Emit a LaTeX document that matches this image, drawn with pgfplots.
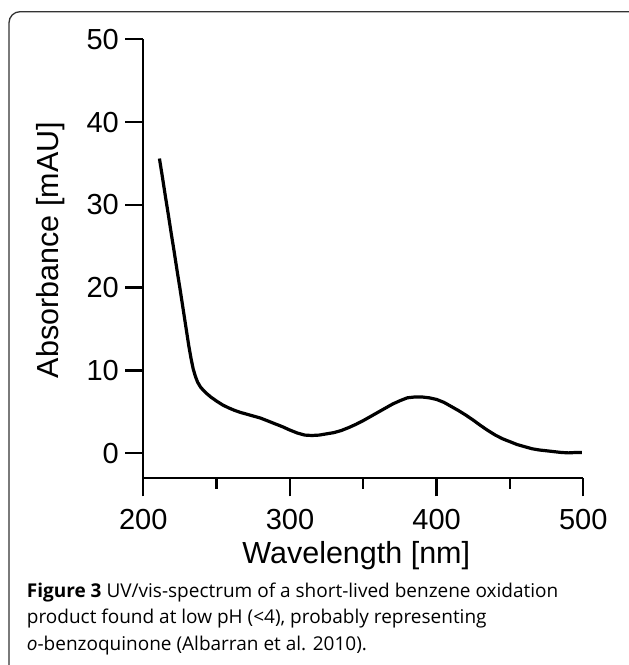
\documentclass[border=0pt]{standalone}
\usepackage{pgfplots}
\pgfplotsset{compat=1.18}
\usepackage{fontspec}
\setmainfont{Liberation Sans}
\newfontfamily\capfont{Open Sans}

\pgfplotstableread{
lambda A
211 35.6
213 33.4
215 31.1
217 28.9
219 26.6
221 24.4
223 22.1
225 19.9
227 17.6
229 15.3
231 13.0
232.5 11.5
234 10.2
235.5 9.3
237 8.6
239 8.0
241 7.6
243 7.25
246 6.8
250 6.3
254 5.85
258 5.5
262 5.2
266 4.95
270 4.75
275 4.5
280 4.25
285 3.9
290 3.55
295 3.2
300 2.8
305 2.45
310 2.2
315 2.15
320 2.2
325 2.35
330 2.5
335 2.75
340 3.1
345 3.5
350 3.95
355 4.45
360 4.95
365 5.45
370 5.95
375 6.35
380 6.7
385 6.8
390 6.8
395 6.7
400 6.5
405 6.15
410 5.65
415 5.15
420 4.6
425 4.0
430 3.35
435 2.75
440 2.2
445 1.75
450 1.4
455 1.05
460 0.8
465 0.55
470 0.4
475 0.3
480 0.2
485 0.1
490 0.05
495 0.1
499 0.1
}\spectrum

\begin{document}
\begin{tikzpicture}[x=1pt,y=1pt]
\draw[line width=1.3pt, black!80, rounded corners=11pt] (9,-30) rectangle (650,653.3);
\begin{axis}[
  at={(143.3pt,186.7pt)}, anchor=south west,
  scale only axis, width=440pt, height=439pt,
  xmin=200, xmax=500, ymin=-3.02, ymax=50,
  axis x line*=bottom, axis y line*=left,
  axis line style={line width=2.4pt, -},
  xtick={200,300,400,500}, minor xtick={250,350,450},
  ytick={0,10,20,30,40,50},
  tick align=outside,
  major tick length=18pt, minor tick length=10.7pt,
  every tick/.style={line width=2.4pt, black},
  /pgf/number format/assume math mode=true,
  ticklabel style={font=\fontsize{29}{29}\selectfont},
  xticklabel shift=9pt, yticklabel shift=3pt,
  xlabel={Wavelength [nm]},
  ylabel={Absorbance [mAU]},
  every axis x label/.style={at={(axis description cs:0.5,0)}, yshift=-85pt, xshift=-7pt, anchor=base, font=\fontsize{30.5}{30.5}\selectfont},
  every axis y label/.style={at={(axis description cs:0,0.52)}, xshift=-85pt, rotate=90, anchor=base, font=\fontsize{30.5}{30.5}\selectfont},
  clip=false,
]
\addplot[line width=3.2pt, black, line join=round] table[x=lambda, y=A] {\spectrum};
\end{axis}
\node[anchor=base west, align=left, inner sep=0pt, font=\capfont\fontsize{19}{26.5}\selectfont] at (26.7,15) {\textbf{Figure 3} UV/vis-spectrum of a short-lived benzene oxidation\\product found at low pH (<4), probably representing\\\textit{o}-benzoquinone (Albarran et al. 2010).};
\pgfresetboundingbox
\path[use as bounding box] (0,0) rectangle (629,665);
\end{tikzpicture}
\end{document}
